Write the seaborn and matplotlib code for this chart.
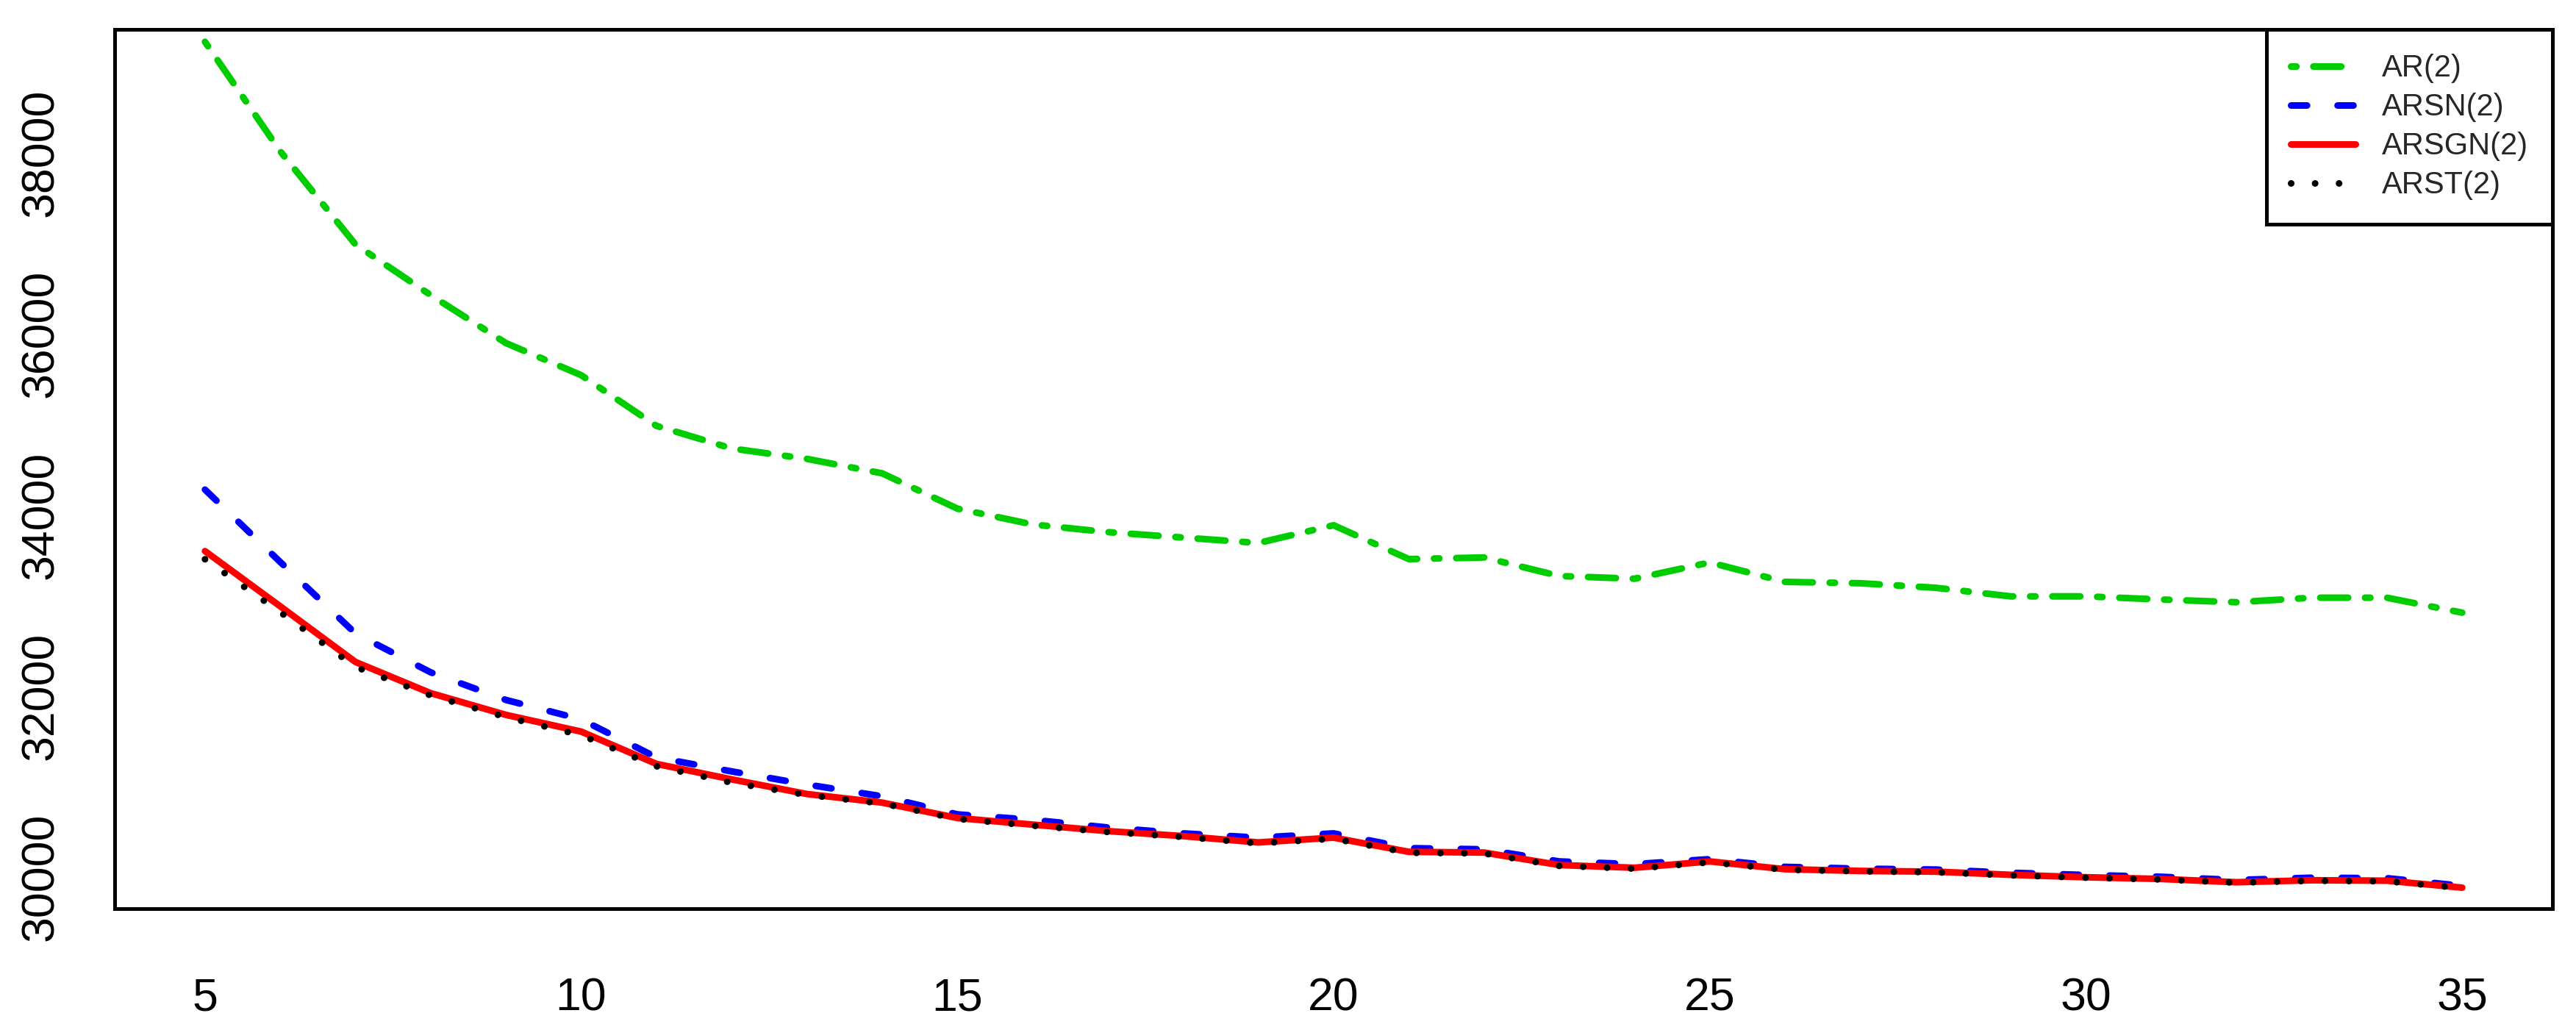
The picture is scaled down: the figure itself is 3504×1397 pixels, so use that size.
import numpy as np
import pandas as pd
import matplotlib
matplotlib.use("Agg")
import matplotlib.pyplot as plt
import seaborn as sns

# horizonte (5..35) e valores
p = list(range(5, 36))

ar = [39230, 38020, 36990, 36430, 35900, 35545, 34985, 34735, 34620, 34460,
      34070, 33895, 33810, 33750, 33690, 33886, 33512, 33530, 33325, 33295,
      33475, 33260, 33245, 33195, 33100, 33100, 33065, 33035, 33085, 33085,
      32920]
arsn = [34280, 33480, 32690, 32260, 31955, 31740, 31320, 31165, 31020, 30890,
        30690, 30630, 30545, 30480, 30433, 30480, 30317, 30304, 30170, 30140,
        30195, 30110, 30090, 30080, 30045, 30020, 30000, 29965, 29990, 29985,
        29900]
arsgn = [33600, 32990, 32375, 32030, 31790, 31605, 31248, 31077, 30915, 30820,
         30650, 30577, 30505, 30450, 30380, 30433, 30276, 30268, 30130, 30100,
         30170, 30084, 30065, 30057, 30022, 29995, 29976, 29940, 29962, 29957,
         29880]
arst = [33510, 32925, 32320, 32005, 31765, 31565, 31222, 31040, 30905, 30810,
        30640, 30565, 30495, 30440, 30370, 30420, 30265, 30258, 30120, 30090,
        30160, 30078, 30060, 30050, 30016, 29990, 29970, 29935, 29956, 29950,
        29875]

modelos = ["AR(2)", "ARSN(2)", "ARSGN(2)", "ARST(2)"]
cores = ["#00CD00", "#0000FF", "#FF0000", "#000000"]

base = pd.DataFrame({"p": p * 4,
                     "valor": ar + arsn + arsgn + arst,
                     "modelo": np.repeat(modelos, len(p))})

sns.set_style("white")
plt.rcParams["font.family"] = ["Liberation Sans", "DejaVu Sans"]

fig = plt.figure(figsize=(35.05, 13.97), dpi=100)
ax = fig.add_axes([156 / 3505, 1 - 1236 / 1397, (3472 - 156) / 3505, (1236 - 40) / 1397])

# padroes do R: dotdash, dashed, solid, dotted (em unidades de largura)
tracos = {"AR(2)": (0.8, 2.55, 4.2, 2.55), "ARSN(2)": (2.4, 4.6),
          "ARSGN(2)": "", "ARST(2)": (0.01, 3.6)}
sns.lineplot(data=base, x="p", y="valor", hue="modelo", style="modelo",
             hue_order=modelos, style_order=modelos,
             palette=dict(zip(modelos, cores)), dashes=tracos,
             linewidth=6.5, legend=False, ax=ax)

for ln in ax.lines:
    ln.set_dash_capstyle("round")
    ln.set_solid_capstyle("round")
    ln.set_solid_joinstyle("round")
    ln.set_dash_joinstyle("round")

ax.set_xlim(3.8, 36.2)
ax.set_ylim(29648, 39367)
ax.set_xticks(range(5, 36, 5))
ax.set_yticks(range(30000, 38001, 2000))
ax.set_xlabel("")
ax.set_ylabel("")
for s in ax.spines.values():
    s.set_color("black")
    s.set_linewidth(3.6)
ax.tick_params(axis="both", direction="out", length=27.4, width=3.6,
               color="black", labelsize=45, labelcolor="black")
ax.tick_params(axis="x", pad=39)
ax.tick_params(axis="y", pad=24)
for t in ax.get_yticklabels():
    t.set_rotation(90)
    t.set_va("center")

leg = ax.legend(ax.lines, modelos, loc="upper right", bbox_to_anchor=(1, 1),
                borderaxespad=0, fontsize=30, frameon=True, fancybox=False,
                framealpha=1, edgecolor="black", handlelength=2.1,
                handletextpad=0.86, labelspacing=0.31, borderpad=0.8)
leg.get_frame().set_linewidth(3.6)

fig.savefig("out.png", dpi=100)
